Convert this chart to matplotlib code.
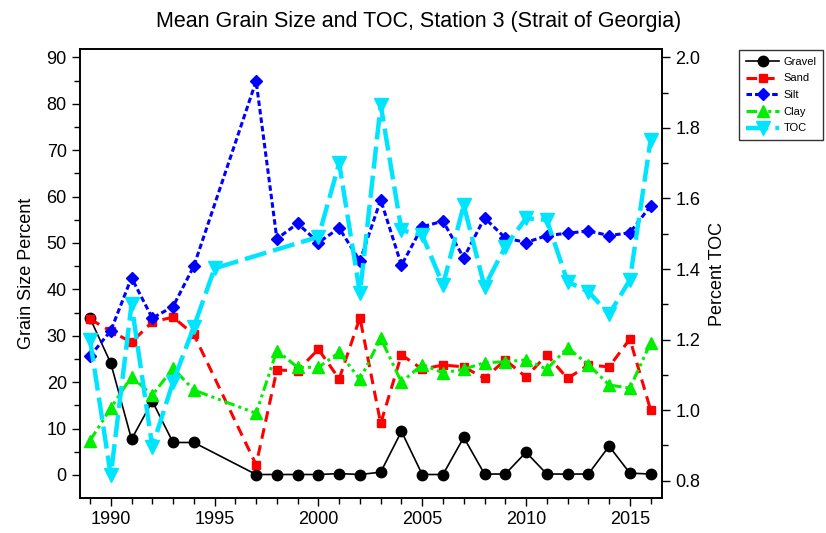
import matplotlib.pyplot as plt
import numpy as np

plt.rcParams["font.family"] = ["Liberation Sans", "DejaVu Sans"]

years = [1989, 1990, 1991, 1992, 1993, 1994,
         1997, 1998, 1999, 2000, 2001, 2002, 2003, 2004, 2005, 2006,
         2007, 2008, 2009, 2010, 2011, 2012, 2013, 2014, 2015, 2016]

gravel = [33.8, 24.1, 7.7, 15.9, 7.0, 7.0,
          0.1, 0.1, 0.1, 0.1, 0.3, 0.1, 0.6, 9.4, 0.1, 0.1,
          8.1, 0.2, 0.2, 4.9, 0.2, 0.2, 0.2, 6.2, 0.4, 0.2]
sand = [33.6, 31.0, 28.6, 33.0, 34.0, 30.3,
        2.2, 22.6, 22.5, 27.1, 20.7, 33.9, 11.1, 25.9, 22.8, 23.7,
        23.3, 20.8, 24.8, 21.1, 25.9, 20.8, 23.7, 23.3, 29.3, 14.0]
silt = [25.6, 31.1, 42.5, 33.8, 36.3, 45.0,
        84.9, 50.9, 54.2, 50.1, 53.2, 46.1, 59.3, 45.2, 53.5, 54.7,
        46.8, 55.4, 51.1, 50.1, 51.6, 52.1, 52.6, 51.6, 52.2, 58.0]
clay = [7.4, 14.4, 21.2, 17.2, 23.0, 18.3,
        13.3, 26.8, 23.2, 23.2, 26.4, 20.6, 29.5, 20.0, 23.8, 22.0,
        22.8, 24.2, 24.4, 24.8, 22.8, 27.4, 23.8, 19.4, 18.7, 28.5]

toc_years = [1989, 1990, 1991, 1992, 1993, 1994, 1995,
             2000, 2001, 2002, 2003, 2004, 2005, 2006, 2007, 2008,
             2009, 2010, 2011, 2012, 2013, 2014, 2015, 2016]
toc = [1.20, 0.815, 1.30, 0.896, 1.08, 1.236, 1.402,
       1.491, 1.70, 1.331, 1.865, 1.51, 1.496, 1.355, 1.581, 1.35,
       1.463, 1.544, 1.539, 1.364, 1.336, 1.272, 1.369, 1.766]

fig = plt.figure(figsize=(8.26, 5.33), dpi=100)
ax = fig.add_axes([0.0969, 0.0657, 0.7046, 0.8423])
ax2 = ax.twinx()

l1, = ax.plot(years, gravel, color="black", lw=1.2, marker="o", ms=7.5,
              label="Gravel")
l2, = ax.plot(years, sand, color="red", lw=2.2, marker="s", ms=6,
              dashes=(3.5, 2.2), label="Sand")
l3, = ax.plot(years, silt, color="#0000ff", lw=2.2, marker="D", ms=6,
              dashes=(1.8, 1.0), label="Silt")
l4, = ax.plot(years, clay, color="#00ee00", lw=2.2, marker="^", ms=8.5,
              dashes=(3.5, 1.3, 1.0, 1.3, 1.0, 1.3), label="Clay")
l5, = ax2.plot(toc_years, toc, color="#00e5ff", lw=3.2, marker="v", ms=9.5,
               dashes=(5.0, 1.6), label="TOC")

ax.set_xlim(1988.52, 2016.55)
ax.set_ylim(-4.96, 91.8)
ax2.set_ylim(0.751, 2.0235)

ax.set_xticks(np.arange(1990, 2016, 5))
ax.set_xticks(np.arange(1989, 2017, 1), minor=True)
ax.set_yticks(np.arange(0, 91, 10))
ax.set_yticks(np.arange(0, 91, 5), minor=True)
ax2.set_yticks(np.arange(0.8, 2.01, 0.2))
ax2.set_yticks(np.arange(0.8, 2.01, 0.1), minor=True)
ax2.set_yticklabels([f"{v:.1f}" for v in np.arange(0.8, 2.01, 0.2)])

for a in (ax, ax2):
    a.tick_params(which="major", length=6, width=1, labelsize=13, direction="out")
    a.tick_params(which="minor", length=4, width=1, direction="out")
    for s in a.spines.values():
        s.set_linewidth(1.2)

ax.set_ylabel("Grain Size Percent", fontsize=13, labelpad=8)
ax2.set_ylabel("Percent TOC", fontsize=13, labelpad=6)
fig.suptitle("Mean Grain Size and TOC, Station 3 (Strait of Georgia)",
             fontsize=15.5, x=0.507, y=0.98)

leg = fig.legend(handles=[l1, l2, l3, l4, l5], loc="upper left",
                 bbox_to_anchor=(0.895, 0.906), fontsize=8, frameon=True,
                 fancybox=False, edgecolor="black", handlelength=3.0,
                 borderpad=0.6, labelspacing=0.6, handletextpad=0.4,
                 borderaxespad=0.0)
leg.get_frame().set_linewidth(1.0)

fig.savefig("out.png", dpi=100)
